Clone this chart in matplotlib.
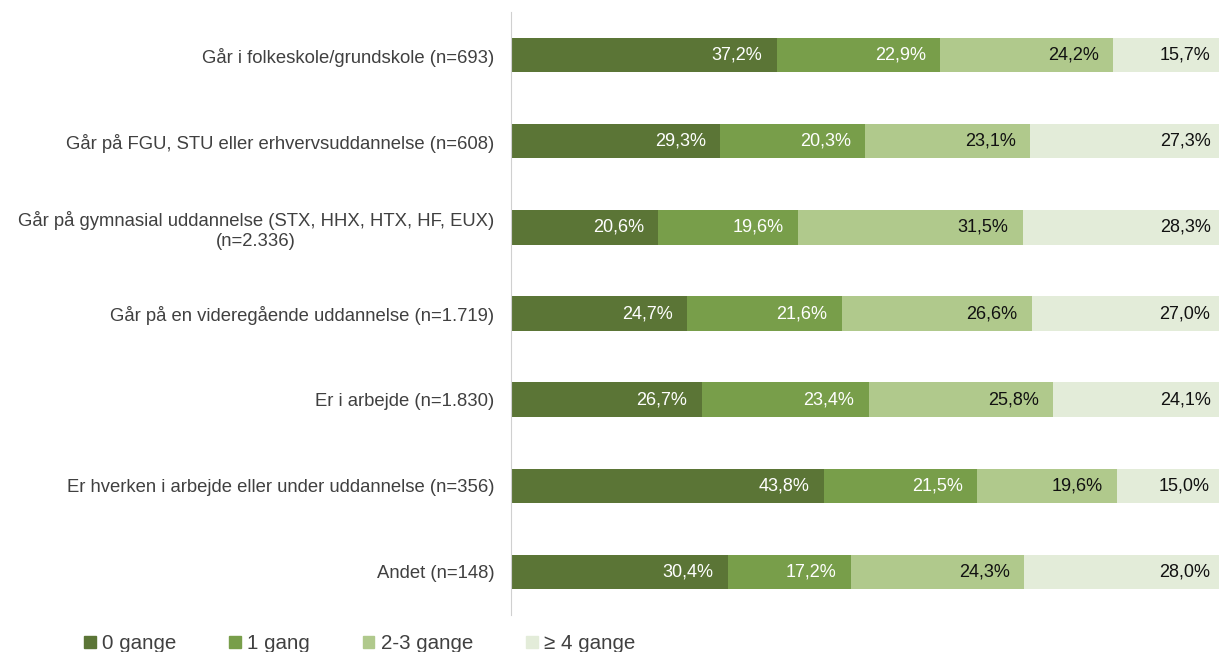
import numpy as np
import matplotlib.pyplot as plt
from matplotlib.patches import Patch

plt.rcParams['font.family'] = ['Liberation Sans', 'DejaVu Sans']

categories = [
    'Går i folkeskole/grundskole (n=693)',
    'Går på FGU, STU eller erhvervsuddannelse (n=608)',
    'Går på gymnasial uddannelse (STX, HHX, HTX, HF, EUX)\n(n=2.336)',
    'Går på en videregående uddannelse (n=1.719)',
    'Er i arbejde (n=1.830)',
    'Er hverken i arbejde eller under uddannelse (n=356)',
    'Andet (n=148)',
]
series = ['0 gange', '1 gang', '2-3 gange', '≥ 4 gange']
zero = [37.2, 29.3, 20.6, 24.7, 26.7, 43.8, 30.4]
one = [22.9, 20.3, 19.6, 21.6, 23.4, 21.5, 17.2]
two_three = [24.2, 23.1, 31.5, 26.6, 25.8, 19.6, 24.3]
four_plus = [15.7, 27.3, 28.3, 27.0, 24.1, 15.0, 28.0]

colors = ['#5B7536', '#789E4A', '#B0C98C', '#E3ECD9']
text_colors = ['white', 'white', '#111111', '#111111']

fig = plt.figure(figsize=(12.19, 6.52), dpi=100)
ax = fig.add_axes([511 / 1219, 1 - 615 / 652, 714 / 1219, 603 / 652])

y = np.arange(len(categories))
left = np.zeros(len(categories))
for vals, col, tc, name in zip([zero, one, two_three, four_plus], colors, text_colors, series):
    vals = np.array(vals)
    ax.barh(y, vals, left=left, height=0.4, color=col, label=name)
    for yi, l, v in zip(y, left, vals):
        ax.text(l + v - 2.0, yi, f'{v:.1f}%'.replace('.', ','), ha='right', va='center',
                color=tc, fontsize=13)
    left += vals

ax.set_xlim(0, 100)
ax.set_ylim(6.5, -0.5)
ax.set_yticks(y)
ax.set_yticklabels(categories, fontsize=13.3, color='#404040', multialignment='center')
ax.tick_params(axis='y', length=0, pad=12)
ax.set_xticks([])
for s in ['top', 'right', 'bottom']:
    ax.spines[s].set_visible(False)
ax.spines['left'].set_color('#d0d0d0')

handles = [Patch(color=c) for c in colors]
fig.legend(handles, series, loc='lower left', bbox_to_anchor=(0.054, -0.03), ncol=4,
           frameon=False, fontsize=14.8, handlelength=0.55, handleheight=0.55,
           handletextpad=0.3, columnspacing=2.6, labelcolor='#404040')

fig.savefig('out.png', dpi=100)
